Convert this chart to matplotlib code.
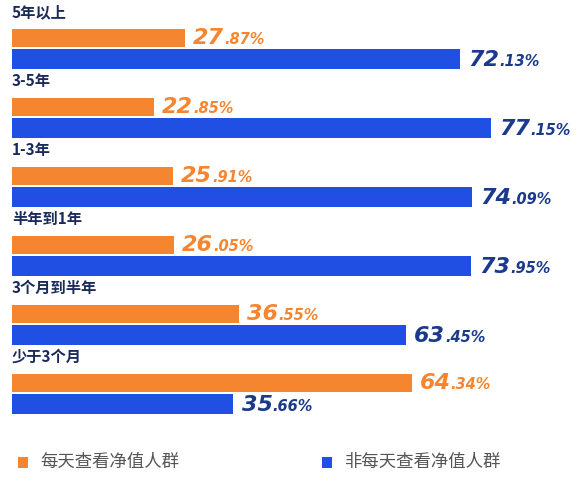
import matplotlib
matplotlib.use("Agg")
import matplotlib.pyplot as plt

plt.rcParams['font.family'] = ['Noto Sans CJK SC', 'DejaVu Sans']

groups = ["5年以上", "3-5年", "1-3年", "半年到1年", "3个月到半年", "少于3个月"]
daily = [27.87, 22.85, 25.91, 26.05, 36.55, 64.34]
not_daily = [72.13, 77.15, 74.09, 73.95, 63.45, 35.66]
legend_labels = ["每天查看净值人群", "非每天查看净值人群"]

orange = "#F5862F"
blue = "#1F4FE3"
navy = "#1B3A8C"

W, H = 582, 490
px = 6.21  # pixels per percent
fig = plt.figure(figsize=(W / 100, H / 100), dpi=100)
ax = fig.add_axes([0, 0, 1, 1])
ax.set_xlim(-12 / px, (W - 12) / px)
ax.set_ylim(H, 0)
ax.axis("off")
renderer = fig.canvas.get_renderer()


def value_text(x, y, v, color):
    s = f"{v:.2f}"
    a, b = s.split(".")
    t = ax.text(x, y, a, color=color, fontsize=16, fontweight="bold",
                style="italic", va="center", ha="left", family="DejaVu Sans")
    bb = t.get_window_extent(renderer=renderer)
    x2 = ax.transData.inverted().transform((bb.x1, 0))[0]
    ax.text(x2, y + 1.5, "." + b + "%", color=color, fontsize=10.5,
            fontweight="bold", style="italic", va="center", ha="left",
            family="DejaVu Sans")


step = 69
for i, g in enumerate(groups):
    top = 12 + step * i
    ax.text(0, top, g, fontsize=11, fontweight="bold", color="#1a2a5a",
            va="center", ha="left")
    yo, yb = top + 26, top + 47
    ax.barh(yo, daily[i], height=18, left=0, color=orange)
    ax.barh(yb, not_daily[i], height=20, left=0, color=blue)
    value_text(daily[i] + 1.3, yo, daily[i], orange)
    value_text(not_daily[i] + 1.3, yb + 1, not_daily[i], navy)

# legend
for x0, c, lab in [(18, orange, legend_labels[0]), (322, blue, legend_labels[1])]:
    xd = (x0 - 12) / px
    ax.barh(462, 10 / px, height=11, left=xd, color=c)
    ax.text(xd + 22 / px, 462, lab, fontsize=12.5, color="#555555",
            va="center", ha="left")

fig.savefig("out.png", dpi=100)
